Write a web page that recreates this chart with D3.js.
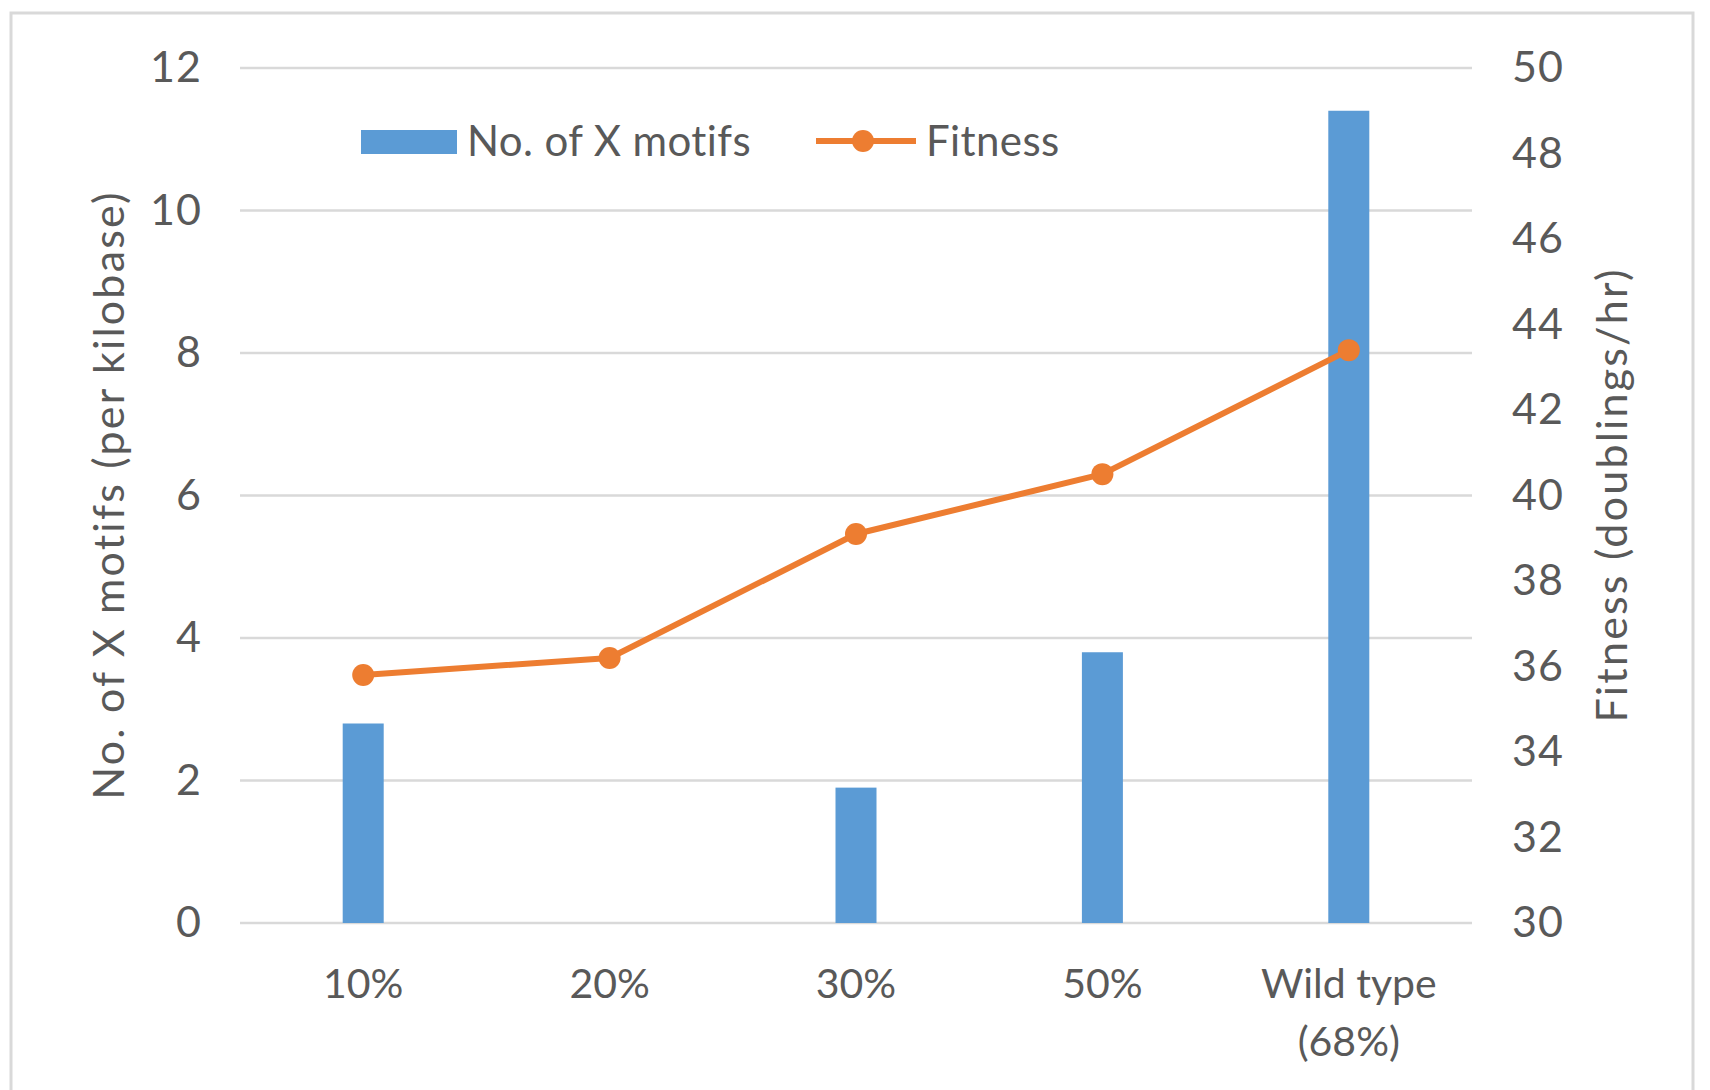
<!DOCTYPE html>
<html>
<head>
<meta charset="utf-8">
<script src="https://cdn.jsdelivr.net/npm/d3@7"></script>
<style>
  html, body { margin: 0; padding: 0; background: #fff; }
  svg { display: block; }
  text { font-family: Lato, "Open Sans", sans-serif; fill: #595959; }
</style>
</head>
<body>
<svg id="chart" width="1710" height="1090"></svg>
<script>
// GC content groups
const categories = ["10%", "20%", "30%", "50%", "Wild type\n(68%)"];
// X motifs per kilobase (bars, left axis)
const motifs = [2.8, 0, 1.9, 3.8, 11.4];
// Fitness in doublings/hr (line, right axis)
const fitness = [35.8, 36.2, 39.1, 40.5, 43.4];
// Tick labels
const leftTicks = [0, 2, 4, 6, 8, 10, 12];
const rightTicks = [30, 32, 34, 36, 38, 40, 42, 44, 46, 48, 50];

const svg = d3.select("#chart");
const plot = { left: 240, right: 1472, top: 68, bottom: 923 };
const barColor = "#5B9BD5", lineColor = "#ED7D31", gridColor = "#d9d9d9";

// outer frame
svg.append("rect")
  .attr("x", 11).attr("y", 13)
  .attr("width", 1682).attr("height", 1095)
  .attr("fill", "none").attr("stroke", "#d9d9d9").attr("stroke-width", 3);

const x = d3.scaleBand().domain(categories).range([plot.left, plot.right]);
const yL = d3.scaleLinear().domain([0, 12]).range([plot.bottom, plot.top]);
const yR = d3.scaleLinear().domain([30, 50]).range([plot.bottom, plot.top]);

// gridlines
svg.append("g").selectAll("line").data(leftTicks).join("line")
  .attr("x1", plot.left).attr("x2", plot.right)
  .attr("y1", d => yL(d)).attr("y2", d => yL(d))
  .attr("stroke", gridColor).attr("stroke-width", 2.5);

// left axis labels
const axL = svg.append("g").attr("transform", `translate(${plot.left - 38},0)`)
  .call(d3.axisLeft(yL).tickValues(leftTicks).tickSize(0).tickPadding(0));
axL.select(".domain").remove();
axL.selectAll("text").style("font-size", "43px").attr("fill", "#595959")
  .style("font-family", "Lato, sans-serif").style("letter-spacing", "1px");

// right axis labels
const axR = svg.append("g").attr("transform", `translate(${plot.right + 40},0)`)
  .call(d3.axisRight(yR).tickValues(rightTicks).tickSize(0).tickPadding(0));
axR.select(".domain").remove();
axR.selectAll("text").style("font-size", "43px").attr("fill", "#595959")
  .style("font-family", "Lato, sans-serif").style("letter-spacing", "1px");

// bars
const bw = 41;
svg.append("g").selectAll("rect").data(categories).join("rect")
  .attr("x", (d) => x(d) + x.bandwidth() / 2 - bw / 2)
  .attr("width", bw)
  .attr("y", (d, i) => yL(motifs[i]))
  .attr("height", (d, i) => yL(0) - yL(motifs[i]))
  .attr("fill", barColor);

// fitness line
const pts = categories.map((c, i) => [x(c) + x.bandwidth() / 2, yR(fitness[i])]);
svg.append("path").datum(pts)
  .attr("d", d3.line())
  .attr("fill", "none").attr("stroke", lineColor)
  .attr("stroke-width", 6).attr("stroke-linejoin", "round");
svg.append("g").selectAll("circle").data(pts).join("circle")
  .attr("cx", d => d[0]).attr("cy", d => d[1]).attr("r", 11)
  .attr("fill", lineColor);

// category labels
const xl = svg.append("g");
categories.forEach((c) => {
  const lines = c.split("\n");
  const t = xl.append("text")
    .attr("x", x(c) + x.bandwidth() / 2)
    .attr("y", 998)
    .attr("text-anchor", "middle")
    .style("font-size", "41px");
  lines.forEach((l, j) => {
    t.append("tspan").attr("x", x(c) + x.bandwidth() / 2)
      .attr("dy", j === 0 ? 0 : 58).text(l);
  });
});

// axis titles
svg.append("text")
  .attr("transform", `translate(124,495) rotate(-90)`)
  .attr("text-anchor", "middle")
  .style("font-size", "43px").style("letter-spacing", "2.2px")
  .text("No. of X motifs (per kilobase)");
svg.append("text")
  .attr("transform", `translate(1627,495) rotate(-90)`)
  .attr("text-anchor", "middle")
  .style("font-size", "43px").style("letter-spacing", "2.2px")
  .text("Fitness (doublings/hr)");

// legend
const lg = svg.append("g");
lg.append("rect").attr("x", 361).attr("y", 130).attr("width", 96).attr("height", 24)
  .attr("fill", barColor);
lg.append("text").attr("x", 467).attr("y", 156).style("font-size", "42px")
  .style("letter-spacing", "0.4px")
  .text("No. of X motifs");
lg.append("line").attr("x1", 816).attr("x2", 916).attr("y1", 141).attr("y2", 141)
  .attr("stroke", lineColor).attr("stroke-width", 6);
lg.append("circle").attr("cx", 863).attr("cy", 141).attr("r", 11).attr("fill", lineColor);
lg.append("text").attr("x", 926).attr("y", 156).style("font-size", "42px")
  .style("letter-spacing", "0.4px")
  .text("Fitness");
</script>
</body>
</html>
